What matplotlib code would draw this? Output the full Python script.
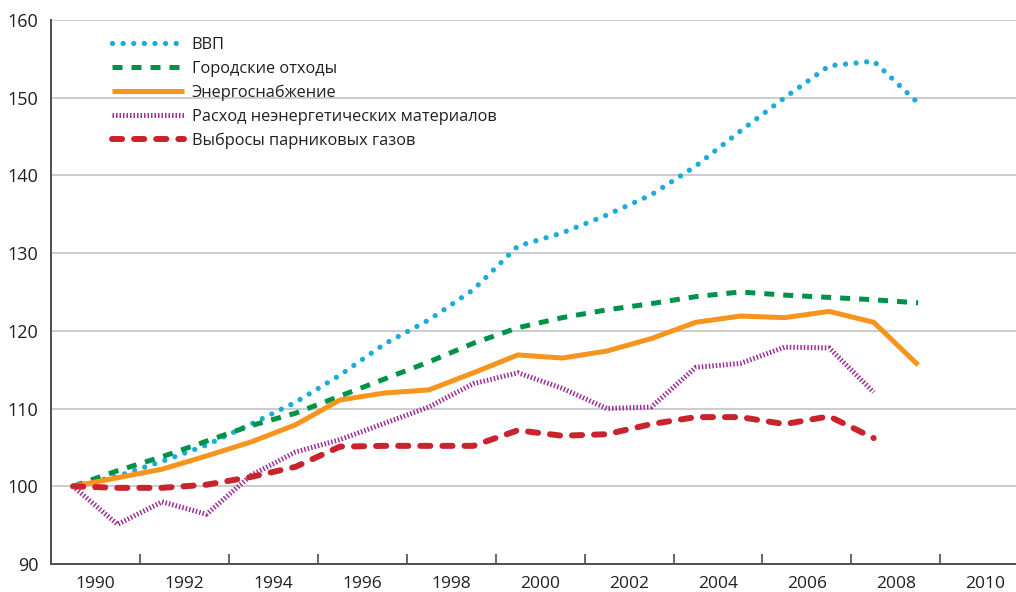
import numpy as np
import matplotlib
matplotlib.use("Agg")
import matplotlib.pyplot as plt
from matplotlib.ticker import FixedLocator, NullFormatter, FixedFormatter

plt.rcParams['font.family'] = ['Open Sans', 'DejaVu Sans']

#%% Data (index, 1990 = 100)
years = np.arange(1990, 2010)

gdp = [100, 101.3, 103.2, 105.3, 108.0, 110.8, 114.3, 118.3, 121.4, 125.3,
       130.9, 132.6, 134.9, 137.5, 141.2, 145.7, 150.0, 154.1, 154.7, 149.3]
waste = [100, 102.0, 103.8, 105.8, 107.8, 109.4, 111.6, 113.8, 116.0, 118.4,
         120.4, 121.7, 122.7, 123.5, 124.4, 125.0, 124.6, 124.3, 124.0, 123.6]
energy = [100, 101.1, 102.2, 103.9, 105.7, 107.9, 111.1, 112.0, 112.4, 114.6,
          116.9, 116.5, 117.4, 119.0, 121.1, 121.9, 121.7, 122.5, 121.1, 115.6]
materials = [100, 95.1, 98.0, 96.4, 101.4, 104.4, 106.0, 108.1, 110.2, 113.2,
             114.6, 112.6, 110.0, 110.2, 115.3, 115.8, 117.9, 117.8, 112.1]
ghg = [100, 99.8, 99.8, 100.2, 101.2, 102.5, 105.1, 105.2, 105.2, 105.2,
       107.2, 106.5, 106.7, 108.0, 108.9, 108.9, 108.0, 109.0, 106.2]

labels = ['ВВП', 'Городские отходы', 'Энергоснабжение',
          'Расход неэнергетических материалов', 'Выбросы парниковых газов']
tick_years = np.arange(1990, 2011, 2)
y_ticks = np.arange(90, 161, 10)

#%% Figure
fig = plt.figure(figsize=(10.16, 5.92), dpi=100)
ax = fig.add_axes([0.050, 0.0473, 0.950, 0.919])

ax.plot(years, gdp, color='#1badd8', lw=3.8, linestyle=(0, (0.01, 2.0)),
        dash_capstyle='round', label=labels[0])
ax.plot(years, waste, color='#00924a', lw=3.6, linestyle=(0, (2.0, 1.8)),
        dash_capstyle='butt', label=labels[1])
ax.plot(years, energy, color='#f7941d', lw=3.6, solid_capstyle='butt', label=labels[2])
ax.plot(years[:len(materials)], materials, color='#9b2f96', lw=3.6,
        linestyle=(0, (0.3, 0.4)), dash_capstyle='butt', label=labels[3])
ax.plot(years[:len(ghg)], ghg, color='#c9232d', lw=4.3, linestyle=(0, (1.7, 2.0)),
        dash_capstyle='round', label=labels[4])

ax.set_xlim(1989.5, 2011.2)
ax.set_ylim(90, 160)

# grid
ax.set_yticks(y_ticks)
ax.yaxis.grid(True, color='#c8c8c8', lw=1.3)
ax.set_axisbelow(True)
ax.tick_params(axis='y', length=0, pad=9, labelsize=13, labelcolor='#231f20')

# x: marks between labels
ax.xaxis.set_major_locator(FixedLocator(tick_years + 1.5))
ax.xaxis.set_major_formatter(NullFormatter())
ax.xaxis.set_minor_locator(FixedLocator(tick_years + 0.5))
ax.xaxis.set_minor_formatter(FixedFormatter([str(y) for y in tick_years]))
ax.tick_params(axis='x', which='major', direction='in', length=7, width=1.2, color='#4d4d4d')
ax.tick_params(axis='x', which='minor', length=0, pad=9, labelsize=12.5, labelcolor='#231f20')

for s in ['top', 'right']:
    ax.spines[s].set_visible(False)
for s in ['left', 'bottom']:
    ax.spines[s].set_color('#4d4d4d')
    ax.spines[s].set_linewidth(1.4)

leg = ax.legend(loc='upper left', bbox_to_anchor=(104 / 1016, 1 - 29 / 592),
                bbox_transform=fig.transFigure, frameon=False, fontsize=11.8,
                handlelength=4.4, handletextpad=0.45, labelspacing=0.47, borderpad=0)
for t in leg.get_texts():
    t.set_color('#231f20')

fig.savefig('out.png', dpi=100)
